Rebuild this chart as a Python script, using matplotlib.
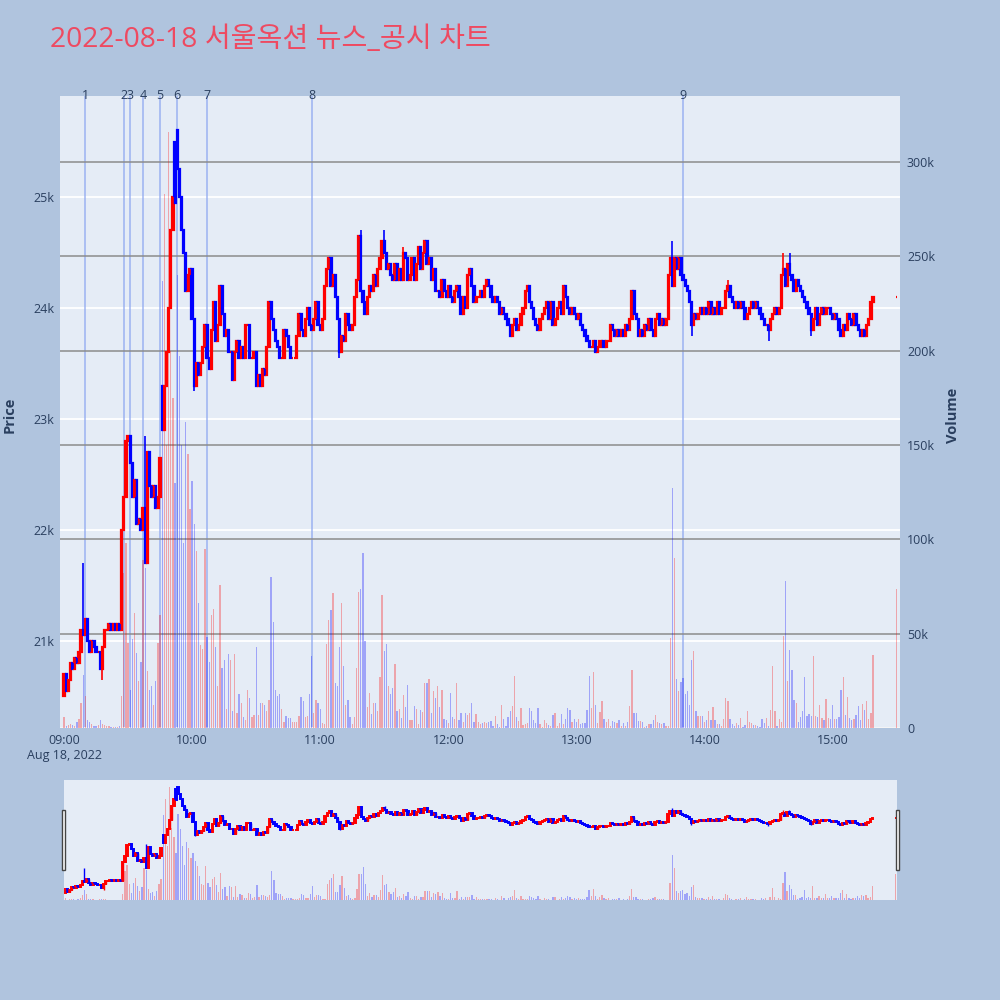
import matplotlib
matplotlib.use('Agg')
import matplotlib.pyplot as plt
from matplotlib.patches import Rectangle
from matplotlib.ticker import FuncFormatter

plt.rcParams['font.family'] = ['Open Sans', 'Noto Sans CJK KR', 'DejaVu Sans']

title = '2022-08-18 서울옥션 뉴스_공시 차트'

# 1분봉 종가 (09:00 ~ 15:19), 마지막은 15:30 종가 단일가
first_open = 20500
closes = [
    20700, 20550, 20650, 20800, 20750, 20850, 20800, 20900, 21100, 21050,
    21200, 21000, 20900, 21000, 20950, 20900, 20900, 20750, 20950, 21100,
    21100, 21150, 21100, 21150, 21100, 21150, 21100, 22000, 22300, 22800,
    22850, 22600, 22300, 22450, 22050, 22100, 22000, 22200, 21700, 22700,
    22400, 22300, 22400, 22200, 22300, 22650, 22900, 23300, 23600, 24000,
    24700, 25000, 24950, 25250, 25000, 24700, 24500, 24150, 24300, 24350,
    23900, 23300, 23500, 23400, 23500, 23650, 23850, 23550, 23450, 23800,
    24050, 23700, 23850, 24200, 23950, 23750, 23800, 23600, 23600, 23350,
    23600, 23700, 23550, 23650, 23550, 23850, 23850, 23550, 23550, 23600,
    23300, 23400, 23300, 23450, 23400, 23650, 24050, 23900, 23800, 23700,
    23650, 23550, 23550, 23800, 23750, 23650, 23550, 23550, 23550, 23750,
    23950, 23800, 23750, 23900, 24000, 23850, 23800, 23900, 24050, 23850,
    23800, 23900, 24200, 24350, 24450, 24200, 24300, 24100, 23900, 23600,
    23750, 23700, 23950, 23850, 23800, 23850, 24100, 24250, 24650, 24150,
    24050, 23950, 24100, 24200, 24150, 24300, 24200, 24350, 24450, 24600,
    24500, 24350, 24400, 24300, 24250, 24400, 24250, 24350, 24250, 24500,
    24450, 24250, 24300, 24450, 24250, 24400, 24550, 24350, 24500, 24600,
    24400, 24450, 24250, 24350, 24150, 24150, 24100, 24250, 24150, 24100,
    24200, 24100, 24050, 24150, 24200, 24100, 23950, 24100, 24000, 24300,
    24350, 24200, 24050, 24100, 24100, 24150, 24100, 24200, 24250, 24200,
    24100, 24050, 24100, 24050, 23950, 24000, 23950, 23900, 23850, 23750,
    23850, 23900, 23800, 23850, 23950, 24000, 24150, 24200, 24050, 24000,
    23900, 23850, 23800, 23900, 23950, 24000, 24050, 23900, 24050, 23850,
    23900, 24000, 24050, 23950, 24200, 24100, 24000, 23950, 24000, 23950,
    23900, 23950, 23850, 23800, 23750, 23700, 23650, 23650, 23700, 23600,
    23650, 23700, 23700, 23650, 23700, 23700, 23850, 23800, 23750, 23800,
    23750, 23800, 23750, 23850, 23800, 23900, 24150, 23950, 23900, 23750,
    23800, 23750, 23850, 23800, 23900, 23800, 23750, 23900, 23950, 23850,
    23900, 23850, 23900, 24300, 24450, 24200, 24450, 24350, 24450, 24300,
    24250, 24200, 24150, 24050, 23850, 23950, 23900, 23950, 24000, 23950,
    24000, 23950, 24050, 23950, 24000, 23950, 24050, 23950, 24000, 24000,
    24150, 24200, 24100, 24050, 24000, 24050, 24000, 24050, 24000, 23900,
    23950, 24000, 24050, 24000, 24050, 24000, 23950, 23900, 23850, 23850,
    23800, 23900, 23950, 24000, 23950, 24000, 24300, 24350, 24200, 24400,
    24300, 24250, 24150, 24250, 24200, 24150, 24100, 24050, 24000, 23950,
    23800, 23900, 24000, 23850, 23950, 24000, 23950, 24000, 24000, 23950,
    23900, 23950, 23900, 23800, 23750, 23850, 23800, 23950, 23900, 23850,
    23950, 23850, 23800, 23750, 23800, 23750, 23850, 23900, 24050, 24100,
]
auction_close = 24100

# 갭 시가, 꼬리
gap_opens = {46: 23300, 52: 25500, 53: 25600}
wick_highs = {9: 21700, 38: 22850, 139: 24700, 150: 24700, 159: 24550,
              285: 24600, 311: 24250, 337: 24500, 340: 24500}
wick_lows = {18: 20650, 61: 23250, 129: 23550, 294: 23750, 330: 23700, 350: 23750}

# 거래량 (천주)
volumes_k = [
    6, 1, 1.5, 2, 1.5, 1, 3, 5, 13, 28,
    17, 4, 3, 2, 1, 1, 1.5, 4, 2, 1.5,
    1, 1, 0.5, 0.5, 0.5, 0.5, 1, 17, 82, 98,
    45, 20, 47, 61, 40, 25, 35, 89, 85, 30,
    20, 22, 12, 25, 45, 60, 237, 283, 150, 316,
    200, 175, 130, 240, 197, 150, 98, 162, 145, 116,
    131, 108, 94, 66, 44, 42, 95, 48, 35, 60,
    63, 43, 22, 76, 32, 36, 10, 39, 36, 9,
    39, 8, 18, 13, 6, 4.5, 20, 16, 6, 7,
    43, 7, 13, 13, 12, 9, 15, 80, 56, 20,
    17, 18, 10, 3, 6.5, 5.5, 5.5, 3, 3, 3,
    6.5, 16.6, 14.5, 6, 6.5, 18, 38, 7.8, 15, 13,
    10, 2.5, 2, 44.7, 57, 62.6, 71.4, 23.7, 22, 43,
    66, 33, 12, 15, 6, 2, 6, 32, 72, 73.5,
    93, 46, 11, 18.7, 7.4, 13, 13, 9, 26.8, 70.5,
    40.6, 44.5, 22, 18, 21, 34, 9, 10, 5.5, 17.6,
    11, 22.6, 4.5, 4, 11.7, 10, 2, 9.5, 8.6, 24,
    24, 26, 8, 19.6, 16, 22.4, 11, 20, 5, 4,
    2.5, 18.4, 5.7, 5, 24, 4, 7.8, 3, 7.8, 7,
    8, 13.4, 3.4, 7.2, 3, 2, 2.5, 3.4, 2.5, 3,
    3.8, 1, 6.4, 2, 0.7, 12.2, 4.6, 1, 6, 8.8,
    11.5, 27.4, 6, 3.8, 10.6, 1.4, 2, 2.8, 10.6, 9,
    4.2, 2.5, 10.6, 2, 0.7, 4.2, 2.5, 1.6, 1.2, 7,
    7.8, 1.2, 2.5, 7.2, 2, 4.6, 10.6, 9.7, 3.4, 4.6,
    3, 4.6, 2, 2.5, 2.8, 9.5, 27.4, 10.4, 29.5, 12.2,
    2.5, 8.5, 14.1, 4.6, 3.4, 4.8, 1.2, 3.8, 3, 2.8,
    4.2, 1.2, 2.5, 1, 3, 11.5, 30.7, 8, 8, 3.9,
    3.7, 3, 0.7, 1, 2, 2, 4.2, 7, 3, 2.5,
    2, 2.5, 1.2, 1.2, 47.6, 127, 90, 26, 19.8, 24.5,
    26.7, 17.8, 19.6, 12, 36, 41, 9, 6.5, 6.5, 6.5,
    3.4, 4, 9, 4, 11, 4, 2, 2, 1, 5,
    15.7, 14.5, 4.6, 2, 1, 2.5, 1.5, 5.3, 0.7, 1.5,
    9, 3, 2.5, 1.5, 1.5, 1, 0.5, 4.6, 2.5, 5.3,
    1, 9.5, 33, 9, 1, 5, 3.4, 48.8, 78, 25,
    41.3, 31, 15, 13, 3.4, 5.7, 9.2, 26.9, 6.4, 7.4,
    6.4, 38, 6.4, 6, 12, 5.3, 4.4, 15.4, 5.3, 4.6,
    12, 4.6, 4.6, 6, 20, 27, 6.9, 16.6, 5.3, 4,
    4.6, 6.7, 11.6, 4.4, 12.7, 9.8, 14.5, 5, 8, 38.7,
]
auction_volume_k = 73.7
auction_minute = 390   # 15:30

# 뉴스/공시 시각 (09:00 기준 분)
news_minutes = [10, 28, 31, 37, 45, 53, 67, 116, 290]
news_labels = ['1', '2', '3', '4', '5', '6', '7', '8', '9']

hour_minutes = [0, 60, 120, 180, 240, 300, 360]
hour_labels = ['09:00\nAug 18, 2022', '10:00', '11:00', '12:00', '13:00', '14:00', '15:00']
price_ticks = [21000, 22000, 23000, 24000, 25000]
volume_ticks = [0, 50000, 100000, 150000, 200000, 250000, 300000]

# OHLC 구성
minutes = list(range(len(closes))) + [auction_minute]
c_all = closes + [auction_close]
o_all = [first_open] + c_all[:-1]
for k, v in gap_opens.items():
    o_all[k] = v
h_all = [max(o, c) for o, c in zip(o_all, c_all)]
l_all = [min(o, c) for o, c in zip(o_all, c_all)]
for k, v in wick_highs.items():
    h_all[k] = v
for k, v in wick_lows.items():
    l_all[k] = v
vol_all = [v * 1000 for v in volumes_k + [auction_volume_k]]
colors = ['#ff0000' if c >= o else '#0000ff' for o, c in zip(o_all, c_all)]
body = [c - o for o, c in zip(o_all, c_all)]

BG = '#b0c4de'
PLOT_BG = '#e5ecf6'
TXT = '#2a3f5f'
XLIM = (-1.9, 391.6)
PLIM = (20216, 25910)
VLIM = (0, 335000)

fig = plt.figure(figsize=(10, 10), dpi=100, facecolor=BG)

ax_p = fig.add_axes([0.06, 0.272, 0.84, 0.632])
ax_p.set_facecolor(PLOT_BG)
ax_p.set_xlim(*XLIM)
ax_p.set_ylim(*PLIM)
ax_p.set_yticks(price_ticks)
ax_p.yaxis.set_major_formatter(FuncFormatter(lambda v, p: f'{v / 1000:g}k'))
ax_p.grid(axis='y', color='white', lw=1.3)
ax_p.set_xticks(hour_minutes)
ax_p.set_xticklabels(hour_labels)
ax_p.tick_params(length=0, labelsize=9, colors=TXT, pad=4)
for s in ax_p.spines.values():
    s.set_visible(False)
ax_p.set_axisbelow(True)
for m, lab in zip(news_minutes, news_labels):
    ax_p.axvline(m, color='#8fa8f0', lw=1.1, alpha=0.85, zorder=1)
    ax_p.text(m, PLIM[1], lab, ha='center', va='center', fontsize=9, color=TXT)

# 거래량 격자 (오른쪽 축)
ax_g = ax_p.twinx()
ax_g.set_ylim(*VLIM)
ax_g.set_yticks(volume_ticks)
ax_g.yaxis.set_major_formatter(FuncFormatter(lambda v, p: '0' if v == 0 else f'{v / 1000:g}k'))
ax_g.grid(axis='y', color='#8c8c8c', lw=1.1)
ax_g.axhline(0, color='white', lw=2)
ax_g.tick_params(length=0, labelsize=9, colors=TXT, pad=5)
for s in ax_g.spines.values():
    s.set_visible(False)

# 캔들
ax_c = ax_p.twinx()
ax_c.set_ylim(*PLIM)
ax_c.axis('off')
ax_c.vlines(minutes, l_all, h_all, colors=colors, lw=1.2)
ax_c.bar(minutes, body, bottom=o_all, width=0.6, color=colors, edgecolor=colors, linewidth=1.6)

# 거래량 막대
ax_v = ax_p.twinx()
ax_v.set_ylim(*VLIM)
ax_v.axis('off')
ax_v.bar(minutes, vol_all, width=0.6, color=colors, alpha=0.3, linewidth=0)
ax_v.set_xlim(*XLIM)

fig.text(0.05, 0.96, title, fontsize=20.3, color='#ee4a61', ha='left', va='center')
fig.text(0.01, 0.585, 'Price', rotation=90, fontsize=10.5, fontweight='bold',
         color=TXT, ha='center', va='center')
fig.text(0.953, 0.585, 'Volume', rotation=90, fontsize=10.5, fontweight='bold',
         color=TXT, ha='center', va='center')

# 레인지 슬라이더
rs_p = fig.add_axes([0.064, 0.1, 0.833, 0.12])
rs_p.set_facecolor(PLOT_BG)
rs_p.set_xlim(-0.6, 390.6)
rs_p.set_ylim(20180, 25920)
rs_p.set_xticks([])
rs_p.set_yticks([])
for s in rs_p.spines.values():
    s.set_visible(False)
rs_p.vlines(minutes, l_all, h_all, colors=colors, lw=1.0)
rs_p.bar(minutes, body, bottom=o_all, width=0.6, color=colors, edgecolor=colors, linewidth=1.4)
rs_v = rs_p.twinx()
rs_v.set_ylim(*VLIM)
rs_v.axis('off')
rs_v.bar(minutes, vol_all, width=0.6, color=colors, alpha=0.3, linewidth=0)

for hx in (0.0615, 0.8955):
    fig.patches.append(Rectangle((hx, 0.13), 0.0035, 0.06, transform=fig.transFigure,
                                 facecolor='white', edgecolor='#444444', lw=1))

fig.savefig('out.png', dpi=100, facecolor=BG)
